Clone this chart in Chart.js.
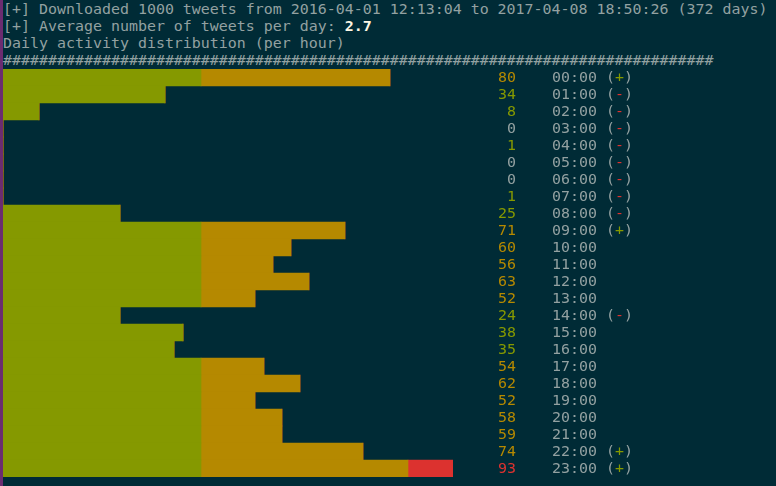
<!DOCTYPE html>
<html>
<head>
<meta charset="utf-8">
<script src="https://cdn.jsdelivr.net/npm/chart.js@4/dist/chart.umd.min.js"></script>
<style>
  html, body { margin:0; padding:0; background:#002b36; width:776px; height:486px; overflow:hidden; }
  #strip { position:absolute; left:0; top:0; width:3px; height:486px; background:#6b2c70; }
  #head { position:absolute; left:3px; top:1px; margin:0; font-family:"DejaVu Sans Mono", monospace; font-size:14.95px; line-height:17px; color:#93a1a1; white-space:pre; }
  #head b { color:#fdf6e3; }
  #wrap { position:absolute; left:3px; top:69px; width:773px; height:408px; }
</style>
</head>
<body>
<div id="strip"></div>
<pre id="head">[+] Downloaded 1000 tweets from 2016-04-01 12:13:04 to 2017-04-08 18:50:26 (372 days)
[+] Average number of tweets per day: <b>2.7</b>
Daily activity distribution (per hour)
<span id="hashes"></span></pre>
<div id="wrap"><canvas id="c" width="773" height="408"></canvas></div>
<script>
// ---- data ----
const hours = ["00:00","01:00","02:00","03:00","04:00","05:00","06:00","07:00","08:00","09:00","10:00","11:00",
               "12:00","13:00","14:00","15:00","16:00","17:00","18:00","19:00","20:00","21:00","22:00","23:00"];
const tweets = [80,34,8,0,1,0,0,1,25,71,60,56,63,52,24,38,35,54,62,52,58,59,74,93];
const marks  = ["+","-","-","-","-","-","-","-","-","+","","","","","-","","","","","","","","+","+"];
const greenLimit = 41;   // int(mean)
const yellowLimit = 83;  // int(mean*2)

document.getElementById('hashes').textContent = '#'.repeat(79);

// the terminal chart is drawn in whole character cells, 50 cells for the maximum
const BAR_CELLS = 50;
const maxVal = Math.max(...tweets);
const cellsOf = v => Math.floor(v * BAR_CELLS / maxVal + 0.25);
const gCells = Math.round(greenLimit * BAR_CELLS / maxVal);
const yCells = Math.round(yellowLimit * BAR_CELLS / maxVal);

const GREEN = '#859900', YELLOW = '#b58900', RED = '#dc322f', TEXT = '#93a1a1';
const greenPart  = tweets.map(v => Math.min(cellsOf(v), gCells));
const yellowPart = tweets.map(v => Math.max(0, Math.min(cellsOf(v), yCells) - gCells));
const redPart    = tweets.map(v => Math.max(0, cellsOf(v) - yCells));

const FONT = '14.95px "DejaVu Sans Mono", monospace';
const CW = 9;
const labelPlugin = {
  id: 'labels',
  afterDatasetsDraw(chart) {
    const ctx = chart.ctx, y = chart.scales.y;
    ctx.save();
    ctx.font = FONT;
    ctx.textBaseline = 'middle';
    tweets.forEach((v, i) => {
      const py = y.getPixelForValue(i) + 0.5;
      ctx.textAlign = 'right';
      ctx.fillStyle = v === 0 ? TEXT : (v <= greenLimit ? GREEN : (v <= yellowLimit ? YELLOW : RED));
      ctx.fillText(String(v), 57 * CW, py);
      ctx.textAlign = 'left';
      ctx.fillStyle = TEXT;
      ctx.fillText(hours[i], 61 * CW, py);
      if (marks[i]) {
        ctx.fillText('(', 67 * CW, py);
        ctx.fillStyle = marks[i] === '+' ? GREEN : RED;
        ctx.fillText(marks[i], 68 * CW, py);
        ctx.fillStyle = TEXT;
        ctx.fillText(')', 69 * CW, py);
      }
    });
    ctx.restore();
  }
};

new Chart(document.getElementById('c'), {
  type: 'bar',
  data: {
    labels: hours,
    datasets: [
      { data: greenPart,  backgroundColor: GREEN },
      { data: yellowPart, backgroundColor: YELLOW },
      { data: redPart,    backgroundColor: RED }
    ]
  },
  options: {
    indexAxis: 'y',
    responsive: false,
    animation: false,
    devicePixelRatio: 1,
    layout: { padding: { left: 0, right: 773 - BAR_CELLS * CW, top: 0, bottom: 0 } },
    datasets: { bar: { barPercentage: 1, categoryPercentage: 1, borderWidth: 0, borderSkipped: false } },
    plugins: { legend: { display: false }, tooltip: { enabled: false } },
    scales: {
      x: { stacked: true, min: 0, max: BAR_CELLS, display: false },
      y: { stacked: true, display: false }
    }
  },
  plugins: [labelPlugin]
});
</script>
</body>
</html>
